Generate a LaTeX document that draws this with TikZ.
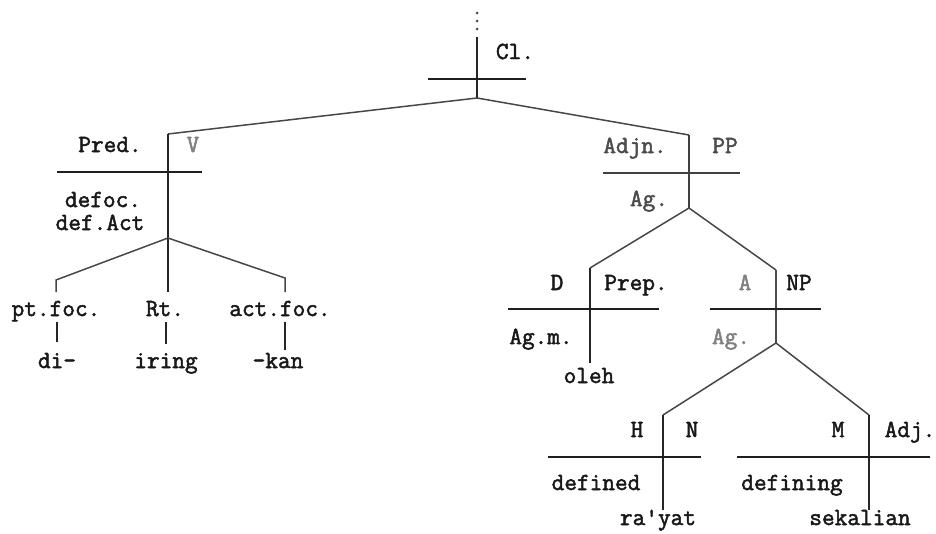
\documentclass[tikz,border=0pt]{standalone}
\usepackage{fontspec}
\newfontfamily\typewr{Latin Modern Mono}[FakeBold=2]
\begin{document}
\begin{tikzpicture}[x=1pt,y=-1pt,
  lbl/.style={font=\typewr\fontsize{24.6}{27}\selectfont,text=black!90,inner sep=0pt,anchor=base},
  faint/.style={lbl,text=black!50},
  branch/.style={draw=black!72,line width=1.5pt},
  bar/.style={draw=black!88,line width=1.8pt},
  stem/.style={draw=black!85,line width=1.6pt},
  tick/.style={draw=black!85,line width=1.3pt}]
\path[use as bounding box,fill=white] (0,0) rectangle (936,533);

% ---- clause node ----
\foreach \yy/\nm in {13/d1,21/d2,29/d3} \fill[black!70] (477,\yy) circle (1.5) coordinate (\nm);
\coordinate (clTop) at (477,37);
\coordinate (cl) at (477,98);
\coordinate (clL) at (428,79);
\coordinate (clR) at (526,79);
\draw[stem] (clTop) -- (cl);
\draw[bar] (clL) -- (clR);
\node[lbl] (tCl) at (515,59) {Cl.};

% ---- predicate ----
\coordinate (vTop) at (168,134);
\coordinate (vBot) at (168,238);
\coordinate (vL) at (57,172);
\coordinate (vR) at (202,172);
\draw[branch] (cl) -- (vTop);
\draw[stem] (vTop) -- (vBot);
\draw[bar] (vL) -- (vR);
\node[lbl] (tPred) at (110,152) {Pred.};
\node[faint] (tV) at (193,152) {V};
\node[lbl] (tDefoc) at (103,207) {defoc.};
\node[lbl] (tDefAct) at (100,230) {def.Act};

% morphemes
\coordinate (ptK) at (56,280);
\coordinate (ptB) at (56,292);
\coordinate (rtB) at (168,292);
\coordinate (acK) at (285,278);
\coordinate (acB) at (285,292);
\draw[branch] (vBot) -- (ptK) -- (ptB);
\draw[stem] (vBot) -- (rtB);
\draw[branch] (vBot) -- (acK) -- (acB);
\node[lbl] (tPt) at (56,316) {pt.foc.};
\node[lbl] (tRt) at (165,316) {Rt.};
\node[lbl] (tAc) at (280,316) {act.foc.};
\node[lbl] (tDi) at (57,368) {di-};
\node[lbl] (tIring) at (166,368) {iring};
\node[lbl] (tKan) at (278,368) {-kan};
\coordinate (ptT1) at (57,322);  \coordinate (ptT2) at (57,342);
\coordinate (rtT1) at (166,322); \coordinate (rtT2) at (166,344);
\coordinate (acT1) at (285,322); \coordinate (acT2) at (285,350);
\draw[tick] (ptT1) -- (ptT2);
\draw[tick] (rtT1) -- (rtT2);
\draw[tick] (acT1) -- (acT2);

% ---- adjunct ----
\coordinate (ppTop) at (689,135);
\coordinate (ppBot) at (689,208);
\coordinate (ppL) at (603,173);
\coordinate (ppR) at (740,173);
\draw[branch] (cl) -- (ppTop);
\draw[stem,draw=black!75] (ppTop) -- (ppBot);
\draw[bar,draw=black!75] (ppL) -- (ppR);
\node[lbl,text=black!70] (tAdjn) at (635,153) {Adjn.};
\node[lbl,text=black!70] (tPP) at (725,153) {PP};
\node[lbl,text=black!70] (tAgA) at (649,206) {Ag.};

% preposition
\coordinate (prTop) at (590,268);
\coordinate (prBot) at (590,363);
\coordinate (prL) at (508,309);
\coordinate (prR) at (659,309);
\draw[branch] (ppBot) -- (prTop);
\draw[stem] (prTop) -- (prBot);
\draw[bar] (prL) -- (prR);
\node[lbl] (tD) at (557,290) {D};
\node[lbl] (tPrep) at (636,290) {Prep.};
\node[lbl] (tAgm) at (541,344) {Ag.m.};
\node[lbl] (tOleh) at (589,383) {oleh};

% noun phrase
\coordinate (npTop) at (776,270);
\coordinate (npBot) at (776,343);
\coordinate (npL) at (710,309);
\coordinate (npR) at (821,309);
\draw[branch] (ppBot) -- (npTop);
\draw[stem,draw=black!70] (npTop) -- (npBot);
\draw[bar] (npL) -- (npR);
\node[faint] (tA) at (745,290) {A};
\node[lbl] (tNP) at (799,290) {NP};
\node[faint] (tAgB) at (731,344) {Ag.};

% head noun
\coordinate (nTop) at (663,415);
\coordinate (nBot) at (663,510);
\coordinate (nL) at (548,457);
\coordinate (nR) at (701,457);
\draw[branch] (npBot) -- (nTop);
\draw[stem] (nTop) -- (nBot);
\draw[bar] (nL) -- (nR);
\node[lbl] (tH) at (637,437) {H};
\node[lbl] (tN) at (692,437) {N};
\node[lbl] (tDefined) at (596,490) {defined};
\node[lbl] (tRakyat) at (658,525) {ra'yat};

% modifier
\coordinate (aTop) at (869,415);
\coordinate (aBot) at (869,510);
\coordinate (aL) at (737,457);
\coordinate (aR) at (930,457);
\draw[branch] (npBot) -- (aTop);
\draw[stem] (aTop) -- (aBot);
\draw[bar] (aL) -- (aR);
\node[lbl] (tM) at (838,437) {M};
\node[lbl] (tAdj) at (910,437) {Adj.};
\node[lbl] (tDefining) at (792,490) {defining};
\node[lbl] (tSekalian) at (860,525) {sekalian};
\end{tikzpicture}
\end{document}
